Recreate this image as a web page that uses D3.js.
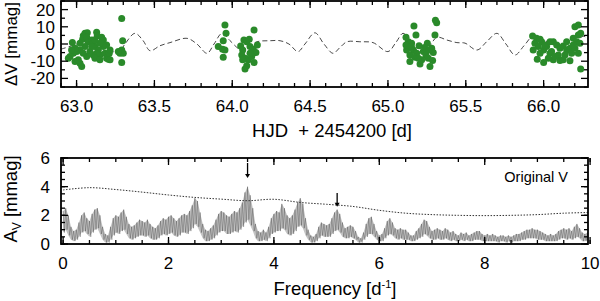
<!DOCTYPE html>
<html>
<head>
<meta charset="utf-8">
<script src="https://cdn.jsdelivr.net/npm/d3@7/dist/d3.min.js"></script>
<style>
body { margin: 0; background: #fff; }
svg text { font-family: "Liberation Sans", Arial, Helvetica, sans-serif; fill: #000; }
</style>
</head>
<body>
<div class="svg-wrapper"></div>
<script>
// light curve: observed points
var obsTime = [
	62.973, 63.054, 63.069, 63.043, 63.039, 63.065, 63.129, 63.133, 63.161, 63.172,
	63.075, 63.097, 63.107, 63.118, 63.140, 63.150, 63.183, 63.193, 63.204, 63.210,
	63.215, 63.193, 63.172, 63.129, 63.107, 63.086, 63.054, 63.022, 63.001, 62.979,
	62.958, 62.947, 62.990, 63.022, 63.033, 63.011, 63.065, 63.118, 63.150, 63.215,
	63.022, 62.990, 62.968, 63.043, 63.097, 63.150, 63.118, 63.290, 63.296, 63.290,
	63.279, 63.300, 63.290, 63.268,
	63.953, 63.960, 63.942, 63.910, 63.938, 63.953, 63.942, 64.075, 64.093, 64.109,
	64.140, 64.054, 64.067, 64.114, 64.135, 64.161, 64.152, 64.061, 64.082, 64.103,
	64.125, 64.140, 64.093, 64.082, 64.067, 64.114,
	65.167, 65.313, 65.302, 65.180, 65.116, 65.131, 65.152, 65.120, 65.163, 65.184,
	65.141, 65.174, 65.141, 65.206, 65.270, 65.227, 65.244, 65.259, 65.287, 65.253,
	65.281, 65.291, 65.217, 65.195, 65.116, 65.305, 65.235, 65.200, 65.265, 65.150,
	65.929, 65.955, 65.987, 65.944, 65.966, 65.933, 66.000, 65.977, 66.019, 66.041,
	66.062, 66.084, 66.105, 66.126, 66.148, 66.169, 66.180, 66.137, 66.094, 66.062,
	66.105, 66.126, 66.169, 66.000, 66.030, 66.051, 66.073, 66.201, 66.223, 66.238,
	66.223, 66.190, 66.212, 66.233, 66.201, 66.223, 66.238, 66.190, 65.959, 66.008,
	66.041, 66.148, 65.977
];
var obsDv = [
	0.8, 6.2, 6.5, 4.8, 2.7, 3.9, 6.8, 4.8, 3.9, 2.3,
	1.3, 2.3, 0.4, -1.5, -3.5, -6.4, -5.4, -8.3, -8.9, -5.4,
	-3.5, -0.6, -1.5, -5.4, -6.4, -4.4, -1.5, -3.5, -4.4, -5.4,
	-7.3, -8.3, -10.2, -11.2, -13.1, -9.2, -7.3, -8.3, -9.2, -9.2,
	0.4, -2.5, -3.5, -5.4, -1.5, 0.4, 2.3, 14.8, 1.9, -3.5,
	-5.4, -5.4, -10.8, -4.4,
	11.0, 6.2, 1.9, -1.5, -3.1, -3.5, -7.7, 2.3, 1.3, 2.7,
	8.1, -1.2, -3.5, -1.5, -3.1, -0.6, -5.0, -6.4, -8.3, -9.2,
	-7.3, -10.8, -12.7, -14.6, -9.2, -5.4,
	10.4, 12.3, 5.2, 5.2, 3.9, 1.3, 0.4, -3.5, -3.5, -5.4,
	-6.4, -7.7, -10.2, -11.6, -13.1, -4.4, -6.4, -8.3, -9.6, 0.4,
	-2.5, -5.0, -9.2, -8.3, -0.6, 13.8, -2.0, -1.0, -3.5, -1.5,
	4.6, 3.3, 1.3, 0.4, -1.5, -3.5, -3.5, -5.4, -1.5, -5.4,
	1.3, -0.6, -2.5, -1.2, -3.5, -2.5, -5.4, -6.4, -6.4, -9.2,
	-9.6, -9.2, -9.8, -10.8, -8.3, -4.4, -7.3, 10.0, 11.0, 6.2,
	5.2, 3.3, 1.3, 0.4, -2.5, -5.4, -14.6, -0.6, -8.9, -0.6,
	1.3, 1.3, 2.7
];

// light curve: multi-periodic fit (dashed)
var fitTime = [
	62.900, 63.003, 63.106, 63.150, 63.195, 63.234, 63.266, 63.311, 63.375, 63.427,
	63.472, 63.536, 63.600, 63.709, 63.773, 63.838, 63.883, 63.934, 63.985, 64.037,
	64.062, 64.159, 64.242, 64.307, 64.364, 64.422, 64.467, 64.531, 64.589, 64.647,
	64.692, 64.737, 64.820, 64.904, 65.000, 65.052, 65.097, 65.141, 65.186, 65.231,
	65.270, 65.315, 65.379, 65.443, 65.495, 65.572, 65.636, 65.700, 65.758, 65.816,
	65.874, 65.932, 65.976, 66.041, 66.105, 66.169, 66.208, 66.253, 66.285
];
var fitDv = [
	-3.0, 0.0, 3.9, 3.5, 0.4, -4.4, -5.8, 0.0, 6.2, 2.0,
	-3.9, -1.0, 0.8, 3.3, 0.0, -5.4, 0.0, 6.2, 2.0, -2.5,
	-3.5, 1.3, 1.9, 1.9, 0.0, -4.4, 0.0, 6.5, 0.0, -5.4,
	-2.0, 1.3, 1.3, 0.8, -4.4, 1.0, 6.2, 2.0, -3.5, -5.4,
	-1.0, 3.9, 2.3, 0.8, 0.5, -3.5, 1.5, 6.2, 0.0, -6.4,
	-1.0, 4.6, 3.0, 0.8, -1.0, -2.0, 0.0, 4.6, 3.0
];

// amplitude spectrum, sampled every 0.05 d^-1 from 0 to 10
var freqStart = 0, freqStep = 0.05;
var ampHigh = [
	2.3, 2.5, 2.0, 1.2, 0.9, 1.0, 1.5, 2.0, 2.2, 1.8, 1.6, 2.1, 2.4, 2.5, 2.0, 1.2, 0.7, 0.6, 1.2, 1.8,
	2.0, 1.9, 2.2, 2.4, 1.9, 1.4, 1.2, 1.3, 1.5, 1.7, 1.6, 1.5, 1.7, 1.4, 1.2, 1.1, 1.3, 1.6, 1.8, 1.7,
	1.9, 2.0, 1.8, 1.6, 1.8, 2.0, 2.1, 2.0, 2.3, 2.7, 3.2, 3.0, 2.2, 1.4, 1.0, 0.9, 1.1, 1.3, 1.7, 2.1,
	2.3, 2.2, 2.0, 1.9, 2.1, 2.3, 2.2, 2.5, 2.9, 3.6, 4.0, 3.4, 2.5, 1.4, 0.9, 0.8, 1.0, 0.8, 1.2, 1.8,
	2.1, 2.3, 2.2, 2.8, 2.5, 2.0, 1.8, 2.0, 2.4, 2.9, 3.2, 2.8, 1.8, 1.0, 0.6, 0.5, 0.7, 1.2, 1.5, 1.4,
	1.3, 1.4, 1.8, 2.2, 2.4, 2.1, 1.5, 1.1, 1.2, 1.3, 1.2, 0.9, 0.5, 0.4, 0.8, 1.4, 1.8, 1.9, 1.4, 0.9,
	0.6, 0.7, 1.1, 1.6, 1.8, 1.5, 1.1, 1.0, 1.1, 1.0, 1.0, 0.8, 0.6, 0.6, 0.9, 1.1, 1.4, 1.7, 1.6, 1.2,
	0.9, 1.0, 1.1, 1.0, 0.9, 1.1, 1.0, 0.8, 0.9, 0.7, 0.6, 0.8, 0.7, 0.8, 0.6, 0.7, 0.8, 0.9, 0.9, 0.7,
	0.6, 0.7, 0.6, 0.7, 0.6, 0.5, 0.6, 0.6, 0.5, 0.6, 0.5, 0.6, 0.7, 0.7, 0.8, 0.9, 1.0, 1.0, 1.1, 1.0,
	1.0, 0.9, 0.8, 0.7, 0.6, 0.7, 0.6, 0.7, 0.9, 1.0, 1.1, 1.0, 1.1, 0.9, 1.2, 1.4, 1.1, 0.8, 0.7, 0.8,
	0.9
];
var ampLow = [
	0.8, 1.0, 0.6, 0.3, 0.2, 0.3, 0.5, 0.8, 0.9, 0.7, 0.5, 0.8, 1.0, 1.1, 0.7, 0.3, 0.1, 0.1, 0.3, 0.6,
	0.8, 0.7, 0.9, 1.0, 0.7, 0.4, 0.3, 0.4, 0.5, 0.6, 0.6, 0.5, 0.6, 0.4, 0.3, 0.3, 0.4, 0.6, 0.7, 0.6,
	0.7, 0.8, 0.6, 0.5, 0.6, 0.8, 0.8, 0.7, 0.9, 1.1, 1.4, 1.2, 0.8, 0.4, 0.2, 0.2, 0.3, 0.4, 0.6, 0.8,
	0.9, 0.9, 0.7, 0.7, 0.8, 0.9, 0.8, 1.0, 1.2, 1.5, 1.7, 1.3, 0.9, 0.4, 0.2, 0.2, 0.3, 0.2, 0.4, 0.7,
	0.8, 0.9, 0.9, 1.1, 1.0, 0.7, 0.6, 0.7, 0.9, 1.2, 1.3, 1.1, 0.6, 0.3, 0.1, 0.1, 0.2, 0.4, 0.6, 0.5,
	0.5, 0.5, 0.7, 0.9, 1.0, 0.8, 0.5, 0.4, 0.4, 0.5, 0.4, 0.3, 0.1, 0.1, 0.3, 0.5, 0.7, 0.7, 0.5, 0.3,
	0.2, 0.2, 0.4, 0.6, 0.7, 0.6, 0.4, 0.3, 0.4, 0.3, 0.3, 0.3, 0.2, 0.2, 0.3, 0.4, 0.5, 0.7, 0.6, 0.4,
	0.3, 0.3, 0.4, 0.3, 0.3, 0.4, 0.3, 0.2, 0.3, 0.2, 0.2, 0.3, 0.2, 0.3, 0.2, 0.2, 0.3, 0.3, 0.3, 0.2,
	0.2, 0.2, 0.2, 0.2, 0.2, 0.1, 0.2, 0.2, 0.1, 0.2, 0.1, 0.2, 0.2, 0.2, 0.3, 0.3, 0.4, 0.4, 0.4, 0.4,
	0.3, 0.3, 0.3, 0.2, 0.2, 0.2, 0.2, 0.2, 0.3, 0.4, 0.4, 0.3, 0.4, 0.3, 0.4, 0.5, 0.4, 0.2, 0.2, 0.3,
	0.3
];

// significance limit (dotted)
var sigFreq = [0, 0.5, 1, 1.5, 2, 2.5, 3, 3.5, 4, 4.5, 5, 5.5, 6, 6.5, 7, 7.5, 8, 8.5, 9, 9.5, 10];
var sigAmp  = [3.77, 3.93, 3.8, 3.62, 3.42, 3.25, 3.13, 3.02, 3.12, 2.9, 2.77, 2.62, 2.35, 2.15, 2.05, 2.0, 1.98, 2.0, 2.05, 2.15, 2.2];

// detected frequencies
var arrowFreq = [3.5, 5.2],
	arrowTop  = [5.65, 3.56],
	arrowTip  = [4.6, 2.6];

var lcMajor = [63.0, 63.5, 64.0, 64.5, 65.0, 65.5, 66.0],
	lcMinor = d3.range(62.9, 66.3, 0.1),
	dvMajor = [-20, -10, 0, 10, 20],
	dvMinor = [-25, -15, -5, 5, 15, 25],
	spMajor = [0, 2, 4, 6, 8, 10],
	spMinor = d3.range(0, 10.01, 0.5),
	avMajor = [0, 2, 4, 6],
	avMinor = d3.range(0, 6.01, 0.5);

var svg = d3.select(".svg-wrapper").append("svg")
	.attr("width", 600)
	.attr("height", 301);

var x1 = d3.scaleLinear().domain([62.9, 66.285]).range([61, 588]),
	y1 = d3.scaleLinear().domain([-25, 25]).range([87, 1]),
	x2 = d3.scaleLinear().domain([-0.04, 9.96]).range([61, 588]),
	y2 = d3.scaleLinear().domain([0, 6]).range([244, 158]);

function drawFrame(x, y, xMaj, xMin, yMaj, yMin, xFmt, yPad) {
	var x0 = x.range()[0], xr = x.range()[1],
		yb = y.range()[0], yt = y.range()[1];
	var lines = [];
	xMin.forEach(function(v) { lines.push([x(v), yb, x(v), yb - 4]); lines.push([x(v), yt, x(v), yt + 4]); });
	xMaj.forEach(function(v) { lines.push([x(v), yb, x(v), yb - 7]); lines.push([x(v), yt, x(v), yt + 7]); });
	yMin.forEach(function(v) { lines.push([x0, y(v), x0 + 4, y(v)]); lines.push([xr, y(v), xr - 4, y(v)]); });
	yMaj.forEach(function(v) { lines.push([x0, y(v), x0 + 7, y(v)]); lines.push([xr, y(v), xr - 7, y(v)]); });
	svg.append("g").selectAll("line").data(lines).enter().append("line")
		.attr("x1", function(d) { return d[0]; })
		.attr("y1", function(d) { return d[1]; })
		.attr("x2", function(d) { return d[2]; })
		.attr("y2", function(d) { return d[3]; })
		.attr("stroke", "#000")
		.attr("stroke-width", 1.3);
	svg.append("rect")
		.attr("x", x0).attr("y", yt)
		.attr("width", xr - x0).attr("height", yb - yt)
		.attr("fill", "none").attr("stroke", "#000").attr("stroke-width", 1.8);
	svg.append("g").selectAll("text").data(xMaj).enter().append("text")
		.attr("x", function(d) { return x(d); })
		.attr("y", yb + 25)
		.attr("text-anchor", "middle")
		.style("font-size", "17px")
		.text(xFmt);
	svg.append("g").selectAll("text").data(yMaj).enter().append("text")
		.attr("x", x0 - yPad)
		.attr("y", function(d) { return y(d) + 6; })
		.attr("text-anchor", "end")
		.style("font-size", "17px")
		.text(function(d) { return d; });
}

// ---- top panel: light curve
svg.append("defs").append("clipPath").attr("id", "clip1")
	.append("rect").attr("x", 61).attr("y", 1).attr("width", 527).attr("height", 86);
svg.append("defs").append("clipPath").attr("id", "clip2")
	.append("rect").attr("x", 61).attr("y", 158).attr("width", 527).attr("height", 86);

var fit = fitTime.map(function(t, i) { return [t, fitDv[i]]; });
svg.append("path")
	.datum(fit)
	.attr("clip-path", "url(#clip1)")
	.attr("fill", "none")
	.attr("stroke", "#333")
	.attr("stroke-width", 0.9)
	.attr("stroke-dasharray", "5,3")
	.attr("d", d3.line().curve(d3.curveCatmullRom)
		.x(function(d) { return x1(d[0]); })
		.y(function(d) { return y1(d[1]); }));

svg.append("g").selectAll("circle").data(obsTime).enter().append("circle")
	.attr("cx", function(d) { return x1(d); })
	.attr("cy", function(d, i) { return y1(obsDv[i]); })
	.attr("r", 3.5)
	.attr("fill", "#2a8a2a");

drawFrame(x1, y1, lcMajor, lcMinor, dvMajor, dvMinor, function(d) { return d.toFixed(1); }, 6);

svg.append("text")
	.attr("transform", "translate(17,44) rotate(-90)")
	.attr("text-anchor", "middle")
	.style("font-size", "17px")
	.text("\u0394V [mmag]");
svg.append("text")
	.attr("x", 332).attr("y", 137)
	.attr("text-anchor", "middle")
	.style("font-size", "18.5px")
	.attr("xml:space", "preserve")
	.text("HJD  + 2454200 [d]");

// ---- bottom panel: amplitude spectrum
var spec = ampHigh.map(function(a, i) { return { f: freqStart + i * freqStep, hi: a, lo: ampLow[i] }; });
var zig = [];
spec.forEach(function(d) {
	zig.push([d.f, d.hi]);
	zig.push([d.f + freqStep / 2, d.lo]);
});

var sp = svg.append("g").attr("clip-path", "url(#clip2)");
sp.append("path")
	.datum(spec)
	.attr("fill", "#c4c4c4")
	.attr("d", d3.area()
		.x(function(d) { return x2(d.f); })
		.y0(function(d) { return y2(d.lo); })
		.y1(function(d) { return y2(d.hi); }));
sp.append("path")
	.datum(zig)
	.attr("fill", "none")
	.attr("stroke", "#333")
	.attr("stroke-opacity", 0.75)
	.attr("stroke-width", 0.45)
	.attr("d", d3.line()
		.x(function(d) { return x2(d[0]); })
		.y(function(d) { return y2(d[1]); }));

sp.append("path")
	.datum(sigFreq.map(function(f, i) { return [f, sigAmp[i]]; }))
	.attr("fill", "none")
	.attr("stroke", "#333")
	.attr("stroke-width", 1)
	.attr("stroke-dasharray", "1.5,1.5")
	.attr("d", d3.line().curve(d3.curveCatmullRom)
		.x(function(d) { return x2(d[0]); })
		.y(function(d) { return y2(d[1]); }));

arrowFreq.forEach(function(f, i) {
	var ax = x2(f), top = y2(arrowTop[i]), tip = y2(arrowTip[i]);
	svg.append("line")
		.attr("x1", ax).attr("x2", ax)
		.attr("y1", top).attr("y2", tip - 3)
		.attr("stroke", "#000").attr("stroke-width", 1.3);
	svg.append("path")
		.attr("d", "M" + (ax - 2.5) + "," + (tip - 4) + "L" + (ax + 2.5) + "," + (tip - 4) + "L" + ax + "," + tip + "Z")
		.attr("fill", "#000");
});

drawFrame(x2, y2, spMajor, spMinor, avMajor, avMinor, function(d) { return d; }, 11);

svg.append("text")
	.attr("x", 568).attr("y", 182)
	.attr("text-anchor", "end")
	.style("font-size", "14.5px")
	.text("Original V");

var av = svg.append("text")
	.attr("transform", "translate(17,199) rotate(-90)")
	.attr("text-anchor", "middle")
	.style("font-size", "18.5px");
av.append("tspan").text("A");
av.append("tspan").attr("dy", 4).style("font-size", "12px").text("V");
av.append("tspan").attr("dy", -4).text(" [mmag]");

var fq = svg.append("text")
	.attr("x", 335).attr("y", 295)
	.attr("text-anchor", "middle")
	.style("font-size", "18.5px");
fq.append("tspan").text("Frequency [d");
fq.append("tspan").attr("dy", -7).style("font-size", "11px").text("-1");
fq.append("tspan").attr("dy", 7).text("]");
</script>
</body>
</html>
